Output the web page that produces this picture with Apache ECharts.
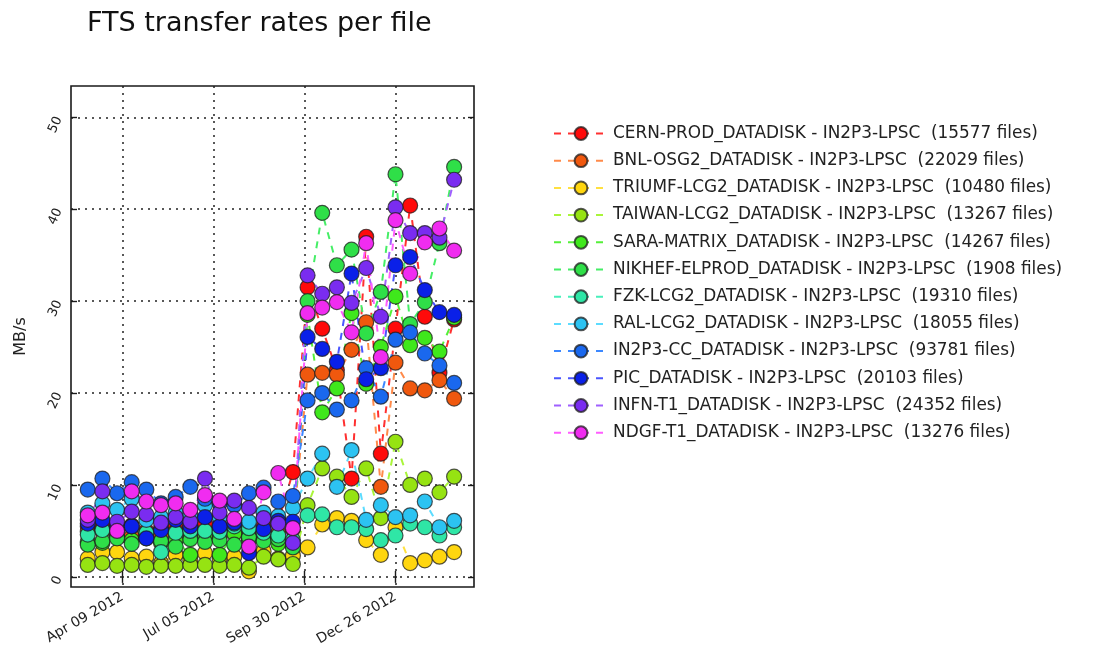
<!DOCTYPE html>
<html>
<head>
<meta charset="utf-8">
<title>FTS transfer rates per file</title>
<script src="https://cdn.jsdelivr.net/npm/echarts@6/dist/echarts.min.js"></script>
<style>
  html, body { margin: 0; padding: 0; background: #fff; }
  #main { width: 1109px; height: 651px; }
</style>
</head>
<body>
<div id="main"></div>
<script>
// sampling dates (every two weeks)
const dates = ['2012-03-07', '2012-03-21', '2012-04-04', '2012-04-18', '2012-05-02', '2012-05-16',
  '2012-05-30', '2012-06-13', '2012-06-27', '2012-07-11', '2012-07-25', '2012-08-08', '2012-08-22',
  '2012-09-05', '2012-09-19', '2012-10-03', '2012-10-17', '2012-10-31', '2012-11-14', '2012-11-28',
  '2012-12-12', '2012-12-26', '2013-01-09', '2013-01-23', '2013-02-06', '2013-02-20']

// x tick labels
const xTicks = ['2012-04-09', '2012-07-05', '2012-09-30', '2012-12-26']
const yTicks = [0, 10, 20, 30, 40, 50]

// MB/s per link
const cern = [5.5, 5.8, 5.2, 5.6, 5.0, 5.3, 5.5, 5.4, 5.8, 5.2, 5.0, 4.5, 5.5, 6.0, 11.4, 31.5, 27.0, 22.5, 10.7, 37.0, 13.4, 27.0, 40.4, 28.3, 22.2, 28.0]
const bnl = [4.9, 5.0, 4.6, 4.4, 4.7, 4.5, 4.9, 4.6, 4.8, 4.4, 4.9, 4.2, 4.5, 4.8, 5.2, 22.0, 22.2, 22.0, 24.7, 27.7, 9.8, 23.3, 20.5, 20.3, 21.4, 19.4]
const triumf = [2.0, 2.7, 2.7, 2.0, 2.2, 1.5, 2.4, 1.8, 2.6, 2.0, 2.2, 0.6, 2.8, 2.0, 2.3, 3.2, 5.7, 6.4, 6.1, 4.0, 2.4, 5.4, 1.5, 1.8, 2.2, 2.7]
const taiwan = [1.3, 1.5, 1.2, 1.3, 1.1, 1.2, 1.2, 1.3, 1.3, 1.2, 1.3, 1.0, 2.2, 1.9, 1.4, 7.8, 11.8, 10.9, 8.7, 11.8, 6.4, 14.7, 10.0, 10.7, 9.2, 10.9]
const sara = [3.8, 3.7, 4.5, 4.0, 4.2, 3.7, 4.0, 2.4, 4.5, 2.4, 4.7, 4.0, 4.2, 3.6, 3.4, 28.5, 17.9, 20.5, 28.7, 21.0, 25.0, 30.5, 25.2, 26.0, 24.5, 28.2]
const nikhef = [3.5, 3.9, 4.2, 3.6, 4.4, 3.9, 3.3, 4.1, 3.8, 4.0, 3.5, 4.3, 3.9, 4.1, 3.2, 30.0, 39.6, 33.9, 35.6, 26.5, 31.0, 43.8, 27.5, 29.9, 36.3, 44.6]
const fzk = [4.6, 5.1, 5.2, 5.5, 4.8, 2.7, 4.8, 5.0, 5.0, 4.9, 5.5, 5.3, 4.8, 4.5, 4.0, 6.7, 6.8, 5.4, 5.4, 5.2, 4.0, 4.5, 5.8, 5.4, 4.5, 5.4]
const ral = [7.0, 8.0, 7.3, 8.5, 6.2, 6.5, 7.0, 6.8, 7.8, 6.5, 5.8, 6.0, 7.0, 6.6, 7.5, 10.7, 13.4, 9.8, 13.8, 6.2, 7.8, 6.5, 6.7, 8.2, 5.4, 6.1]
const in2p3cc = [9.5, 10.7, 9.1, 10.3, 9.5, 8.0, 8.7, 9.8, 8.5, 8.0, 7.8, 9.1, 9.7, 8.2, 8.8, 19.2, 20.0, 18.2, 19.2, 22.7, 19.6, 25.8, 26.6, 24.3, 23.0, 21.1]
const pic = [5.8, 6.2, 5.6, 5.5, 4.2, 5.1, 6.2, 5.5, 6.5, 5.5, 5.9, 2.6, 5.2, 6.1, 6.0, 26.1, 24.8, 23.4, 33.0, 21.5, 22.7, 33.9, 34.8, 31.2, 28.8, 28.5]
const infn = [6.2, 9.3, 6.0, 7.1, 6.8, 5.9, 6.5, 6.0, 10.7, 7.0, 8.3, 7.5, 6.4, 5.8, 3.7, 32.8, 30.8, 31.5, 29.8, 33.6, 28.3, 40.2, 37.4, 37.4, 36.9, 43.2]
const ndgf = [6.7, 7.0, 5.0, 9.3, 8.2, 7.8, 8.0, 7.3, 8.9, 8.3, 6.3, 3.3, 9.2, 11.3, 5.3, 28.7, 29.3, 29.9, 26.6, 36.3, 23.9, 38.8, 33.0, 36.4, 37.9, 35.5]

const names = [
  'CERN-PROD_DATADISK - IN2P3-LPSC  (15577 files)',
  'BNL-OSG2_DATADISK - IN2P3-LPSC  (22029 files)',
  'TRIUMF-LCG2_DATADISK - IN2P3-LPSC  (10480 files)',
  'TAIWAN-LCG2_DATADISK - IN2P3-LPSC  (13267 files)',
  'SARA-MATRIX_DATADISK - IN2P3-LPSC  (14267 files)',
  'NIKHEF-ELPROD_DATADISK - IN2P3-LPSC  (1908 files)',
  'FZK-LCG2_DATADISK - IN2P3-LPSC  (19310 files)',
  'RAL-LCG2_DATADISK - IN2P3-LPSC  (18055 files)',
  'IN2P3-CC_DATADISK - IN2P3-LPSC  (93781 files)',
  'PIC_DATADISK - IN2P3-LPSC  (20103 files)',
  'INFN-T1_DATADISK - IN2P3-LPSC  (24352 files)',
  'NDGF-T1_DATADISK - IN2P3-LPSC  (13276 files)'
]
const values = [cern, bnl, triumf, taiwan, sara, nikhef, fzk, ral, in2p3cc, pic, infn, ndgf]
const markerColors = ['#ff0a0a', '#f0580e', '#ffd60f', '#96e312', '#3fe81c', '#2fdf48',
  '#2fe6a6', '#2cc3f2', '#1a68ee', '#0a20e8', '#7a2cf0', '#f02cf0']
const lineColors = ['#ff3030', '#ff8a4a', '#ffe040', '#aaf53a', '#55f03a', '#45ee66',
  '#48f0bb', '#5cdcff', '#3c88ff', '#4a55ff', '#a060ff', '#ff5cff']

const toTime = s => new Date(s + 'T00:00:00Z').getTime()
const months = ['Jan', 'Feb', 'Mar', 'Apr', 'May', 'Jun', 'Jul', 'Aug', 'Sep', 'Oct', 'Nov', 'Dec']
const fmtDate = v => {
  const d = new Date(v)
  const dd = String(d.getUTCDate()).padStart(2, '0')
  return months[d.getUTCMonth()] + ' ' + dd + ' ' + d.getUTCFullYear()
}

const xMin = toTime('2012-02-20')
const xMax = toTime('2013-03-11')
const yMin = -1.1
const yMax = 53.4
const tickTimes = xTicks.map(toTime)

const font = 'DejaVu Sans'

let myChart = echarts.init(document.getElementById('main'))

let series = values.map((vals, i) => ({
  name: names[i],
  type: 'line',
  data: vals.map((v, k) => [toTime(dates[k]), v]),
  symbol: 'circle',
  symbolSize: 15,
  showSymbol: true,
  animation: false,
  itemStyle: {
    color: markerColors[i],
    borderColor: 'rgba(30,30,30,0.75)',
    borderWidth: 1.2
  },
  lineStyle: {
    color: lineColors[i],
    width: 2,
    type: [7, 7]
  },
  emphasis: {disabled: true}
}))

const tickStyle = {color: '#1a1a1a', width: 1.4}
const gridLine = {show: true, lineStyle: {color: '#222', width: 1.5, type: [2, 5]}}

let option = {
  animation: false,
  backgroundColor: '#fff',
  textStyle: {fontFamily: font},
  title: {
    text: 'FTS transfer rates per file',
    left: 87,
    top: 10,
    padding: 0,
    textStyle: {fontFamily: font, fontSize: 27, fontWeight: 'normal', color: '#111'}
  },
  legend: {
    orient: 'vertical',
    left: 553,
    top: 125,
    itemWidth: 54,
    itemHeight: 16,
    itemGap: 10.2,
    padding: 0,
    textStyle: {fontFamily: font, fontSize: 16.9, color: '#222'},
    data: names
  },
  grid: {
    left: 71,
    top: 86,
    right: 1109 - 474,
    bottom: 651 - 587,
    show: true,
    borderColor: '#1a1a1a',
    borderWidth: 1.6,
    outerBoundsMode: 'none'
  },
  xAxis: [
    {
      type: 'value',
      min: xMin,
      max: xMax,
      axisLine: {show: false},
      axisTick: {show: true, inside: true, length: 6, customValues: tickTimes, lineStyle: tickStyle},
      axisLabel: {
        customValues: tickTimes,
        rotate: 30,
        margin: 9,
        fontFamily: font,
        fontSize: 14,
        color: '#222',
        formatter: v => fmtDate(v)
      },
      splitLine: gridLine
    },
    {
      type: 'value',
      position: 'top',
      min: xMin,
      max: xMax,
      axisLine: {show: false},
      axisTick: {show: true, inside: true, length: 6, customValues: tickTimes, lineStyle: tickStyle},
      axisLabel: {show: false},
      splitLine: {show: false}
    }
  ],
  yAxis: [
    {
      type: 'value',
      min: yMin,
      max: yMax,
      name: 'MB/s',
      nameLocation: 'middle',
      nameGap: 42,
      nameRotate: 90,
      nameTextStyle: {fontFamily: font, fontSize: 16, color: '#222'},
      axisLine: {show: false},
      axisTick: {show: true, inside: true, length: 6, customValues: yTicks, lineStyle: tickStyle},
      axisLabel: {customValues: yTicks, rotate: 65, margin: 12, fontFamily: font, fontSize: 13, color: '#222'},
      splitLine: gridLine
    },
    {
      type: 'value',
      position: 'right',
      min: yMin,
      max: yMax,
      axisLine: {show: false},
      axisTick: {show: true, inside: true, length: 6, customValues: yTicks, lineStyle: tickStyle},
      axisLabel: {show: false},
      splitLine: {show: false}
    }
  ],
  series: series
}

myChart.setOption(option)
</script>
</body>
</html>
